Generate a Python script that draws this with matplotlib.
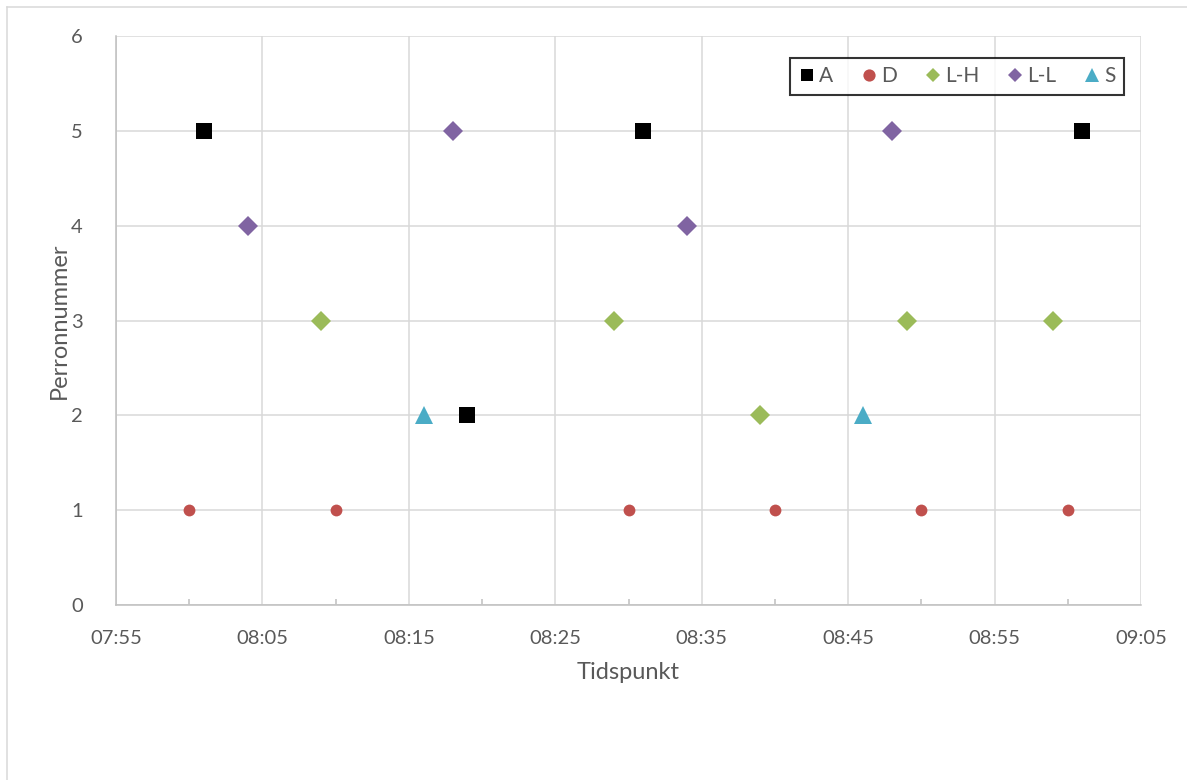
import matplotlib.pyplot as plt
import matplotlib.dates as mdates
import pandas as pd
from matplotlib.lines import Line2D

# data
a_times = ['08:01', '08:19', '08:31', '09:01']
a_perron = [5, 2, 5, 5]
d_times = ['08:00', '08:10', '08:30', '08:40', '08:50', '09:00']
d_perron = [1, 1, 1, 1, 1, 1]
lh_times = ['08:09', '08:29', '08:39', '08:49', '08:59']
lh_perron = [3, 3, 2, 3, 3]
ll_times = ['08:04', '08:18', '08:34', '08:48']
ll_perron = [4, 5, 4, 5]
s_times = ['08:16', '08:46']
s_perron = [2, 2]

plt.rcParams['font.family'] = ['Lato', 'DejaVu Sans']


def to_dt(times):
    return pd.to_datetime(['2020-01-01 ' + t for t in times])


fig = plt.figure(figsize=(11.87, 7.80), dpi=100)
ax = fig.add_axes([116 / 1187, 1 - 605 / 780, (1141 - 116) / 1187, (605 - 36) / 780])

# name, times, perron, marker, size in plot, size in legend, colour
series = [
    ('A', a_times, a_perron, 's', 12.0, 8.8, '#000000'),
    ('D', d_times, d_perron, 'o', 8.5, 8.8, '#c0504d'),
    ('L-H', lh_times, lh_perron, 'D', 10.0, 7.0, '#9bbb59'),
    ('L-L', ll_times, ll_perron, 'D', 10.0, 7.0, '#8064a2'),
    ('S', s_times, s_perron, '^', 13.0, 9.5, '#4bacc6'),
]
for name, t, p, m, ms, _, c in series:
    ax.plot(to_dt(t), p, linestyle='none', marker=m, markersize=ms,
            color=c, markeredgewidth=0, label=name, zorder=3)

ax.set_xlim(pd.Timestamp('2020-01-01 07:55'), pd.Timestamp('2020-01-01 09:05'))
ax.set_ylim(0, 6)
ax.xaxis.set_major_locator(mdates.MinuteLocator(byminute=[5, 15, 25, 35, 45, 55]))
ax.xaxis.set_minor_locator(mdates.MinuteLocator(byminute=[0, 10, 20, 30, 40, 50]))
ax.xaxis.set_major_formatter(mdates.DateFormatter('%H:%M'))
ax.set_yticks(range(7))

ax.grid(True, which='major', color='#d9d9d9', linewidth=1.1)
ax.set_axisbelow(True)
for s in ['top', 'right']:
    ax.spines[s].set_visible(False)
for s in ['left', 'bottom']:
    ax.spines[s].set_color('#bfbfbf')
    ax.spines[s].set_linewidth(1.1)
ax.tick_params(axis='x', which='major', length=0, pad=18, labelsize=14.5, labelcolor='#595959')
ax.tick_params(axis='x', which='minor', direction='in', length=4, color='#bfbfbf', width=1.1)
ax.tick_params(axis='y', length=0, pad=24, labelsize=14.5, labelcolor='#595959')

ax.set_xlabel('Tidspunkt', fontsize=17, color='#595959', labelpad=11)
ax.set_ylabel('Perronnummer', fontsize=17, color='#595959', labelpad=1)

handles = [Line2D([], [], linestyle='none', marker=m, markersize=lms,
                  color=c, markeredgewidth=0) for _, _, _, m, _, lms, c in series]
leg = ax.legend(handles, [s[0] for s in series], ncol=5, loc='upper right',
                bbox_to_anchor=(1 - 17 / 1025, 1 - 22 / 569), fontsize=15,
                frameon=True, fancybox=False, handlelength=0.8,
                handletextpad=0.2, columnspacing=1.3, borderpad=0.4,
                borderaxespad=0, labelcolor='#595959')
leg.get_frame().set_edgecolor('black')
leg.get_frame().set_linewidth(1.5)

# outer chart border
fig.add_artist(Line2D([7 / 1187, 7 / 1187], [0, 1 - 7 / 780], color='#d9d9d9',
                      linewidth=1.1, transform=fig.transFigure))
fig.add_artist(Line2D([7 / 1187, 1], [1 - 7 / 780, 1 - 7 / 780], color='#d9d9d9',
                      linewidth=1.1, transform=fig.transFigure))

fig.savefig('out.png', dpi=100)
